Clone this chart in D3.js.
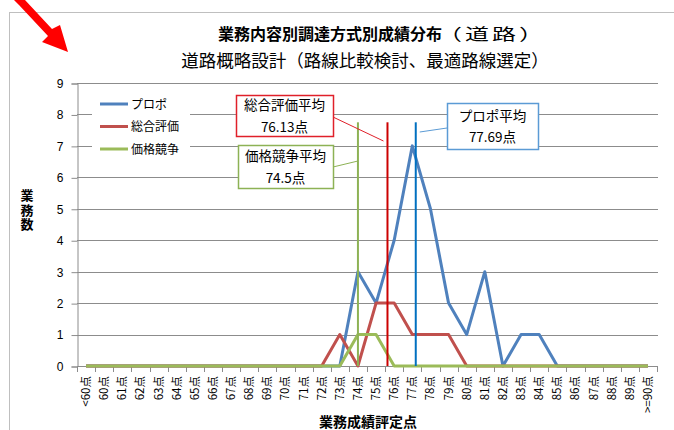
<!DOCTYPE html>
<html>
<head>
<meta charset="utf-8">
<script src="https://cdn.jsdelivr.net/npm/d3@7"></script>
<style>
  body { margin: 0; background: #fff; }
  svg { display: block; font-family: "Noto Sans CJK JP", "Noto Sans", sans-serif; }
</style>
</head>
<body>
<div id="chart_parent"></div>
<script>
// categories: <60点, 60点 .. 89点, >=90点
const scores = d3.range(60, 90);
const categories = ['<60点'].concat(scores.map(s => `${s}点`), ['>=90点']);

const seriesNames = ['プロポ', '総合評価', '価格競争'];
const seriesColours = ['#4F81BD', '#C0504D', '#9BBB59'];

// counts per category (index 0 = <60, 1 = 60 ... 30 = 89, 31 = >=90)
const proposalCounts = [0, 0, 0, 0, 0, 0, 0, 0, 0, 0, 0, 0, 0, 0, 0, 3, 2, 4, 7, 5, 2, 1, 3, 0, 1, 1, 0, 0, 0, 0, 0, 0];
const overallCounts = [0, 0, 0, 0, 0, 0, 0, 0, 0, 0, 0, 0, 0, 0, 1, 0, 2, 2, 1, 1, 1, 0, 0, 0, 0, 0, 0, 0, 0, 0, 0, 0];
const priceCounts = [0, 0, 0, 0, 0, 0, 0, 0, 0, 0, 0, 0, 0, 0, 0, 1, 1, 0, 0, 0, 0, 0, 0, 0, 0, 0, 0, 0, 0, 0, 0, 0];

const meanTitles = ['プロポ平均', '総合評価平均', '価格競争平均'];
const meanValues = [77.69, 76.13, 74.5];
const meanLabels = ['77.69点', '76.13点', '74.5点'];
const meanColours = ['#0070C0', '#CC0000', '#8DB255'];
const boxColours = ['#5B9BD5', '#E0202A', '#8DB255'];

const yTicks = d3.range(0, 10);

const chartConfig = {
    width: 674,
    height: 430,
    plot: { left: 77, right: 657, top: 83, bottom: 366 },
    meanLineTop: 7.75,
    // callout boxes and where their leader lines start
    boxes: [
        { x: 447, y: 103, w: 91, h: 46, lx: 447, ly: 128, ty: 132, off: 4 },
        { x: 236, y: 95, w: 97, h: 41, lx: 333, ly: 117, ty: 141, off: -4 },
        { x: 238, y: 145, w: 95, h: 43, lx: 333, ly: 167, ty: 161, off: 0 },
    ],
};

function drawChart(config) {
    const svg = d3.select('#chart_parent').append('svg')
        .attr('width', config.width)
        .attr('height', config.height);

    const { left, right, top, bottom } = config.plot;

    // outer chart frame
    svg.append('rect')
        .attr('x', 9.5).attr('y', 12.5)
        .attr('width', 700).attr('height', 500)
        .attr('fill', 'none')
        .attr('stroke', '#BFBFBF');

    const xBand = d3.scaleBand().domain(categories).range([left, right]).padding(0);
    const xScore = d3.scaleLinear().domain([59, 91]).range([left, right]);
    const y = d3.scaleLinear().domain([0, 9]).range([bottom, top]);
    const xc = c => xBand(c) + xBand.bandwidth() / 2;

    // gridlines
    svg.append('g').selectAll('line')
        .data(yTicks.filter(t => t > 0))
        .join('line')
        .attr('x1', left).attr('x2', right + 1)
        .attr('y1', d => Math.round(y(d)) + 0.5).attr('y2', d => Math.round(y(d)) + 0.5)
        .attr('stroke', '#8C8C8C');

    // y axis
    const yAxis = d3.axisLeft(y).tickValues(yTicks).tickSize(6).tickPadding(8);
    const yAxisGroup = svg.append('g')
        .attr('transform', `translate(${left + 0.5},0.5)`)
        .call(yAxis);
    yAxisGroup.select('.domain').attr('stroke', '#8C8C8C');
    yAxisGroup.selectAll('.tick line').attr('stroke', '#8C8C8C');
    yAxisGroup.selectAll('.tick text')
        .attr('font-size', 12).attr('fill', '#000')
        .attr('font-family', '"Liberation Sans", Arial, sans-serif');

    // x axis: tick marks at category boundaries
    const xAxisGroup = svg.append('g');
    xAxisGroup.append('line')
        .attr('x1', left).attr('x2', right + 1)
        .attr('y1', bottom + 0.5).attr('y2', bottom + 0.5)
        .attr('stroke', '#8C8C8C');
    xAxisGroup.selectAll('.xtick')
        .data(d3.range(categories.length + 1))
        .join('line')
        .attr('class', 'xtick')
        .attr('x1', i => Math.round(left + i * xBand.bandwidth()) + 0.5)
        .attr('x2', i => Math.round(left + i * xBand.bandwidth()) + 0.5)
        .attr('y1', bottom).attr('y2', bottom + 6)
        .attr('stroke', '#8C8C8C');
    xAxisGroup.selectAll('.xlabel')
        .data(categories)
        .join('text')
        .attr('class', 'xlabel')
        .attr('transform', c => `translate(${xc(c) + 4},${bottom + 10}) rotate(-90)`)
        .attr('text-anchor', 'end')
        .attr('font-size', 11.5)
        .text(c => c);

    // series lines
    const seriesData = [proposalCounts, overallCounts, priceCounts];
    const line = d3.line()
        .x((d, i) => xc(categories[i]))
        .y(d => y(d));

    svg.append('g').selectAll('path')
        .data(seriesData)
        .join('path')
        .attr('d', d => line(d))
        .attr('fill', 'none')
        .attr('stroke', (d, i) => seriesColours[i])
        .attr('stroke-width', 3)
        .attr('stroke-linejoin', 'round');

    // mean lines
    svg.append('g').selectAll('line')
        .data(meanValues)
        .join('line')
        .attr('x1', d => xScore(d)).attr('x2', d => xScore(d))
        .attr('y1', y(0)).attr('y2', y(config.meanLineTop))
        .attr('stroke', (d, i) => meanColours[i])
        .attr('stroke-width', 2);

    // legend
    const legend = svg.append('g');
    legend.append('rect')
        .attr('x', 92).attr('y', 90).attr('width', 98).attr('height', 72)
        .attr('fill', '#fff');
    seriesNames.forEach((name, i) => {
        const ly = 104 + i * 22.5;
        legend.append('line')
            .attr('x1', 100).attr('x2', 128)
            .attr('y1', ly).attr('y2', ly)
            .attr('stroke', seriesColours[i])
            .attr('stroke-width', 3);
        legend.append('text')
            .attr('x', 131).attr('y', ly + 4.5)
            .attr('font-size', 12)
            .text(name);
    });

    // mean callouts
    const callouts = svg.append('g');
    config.boxes.forEach((b, i) => {
        callouts.append('line')
            .attr('x1', b.lx).attr('y1', b.ly)
            .attr('x2', xScore(meanValues[i]) + b.off).attr('y2', b.ty)
            .attr('stroke', boxColours[i])
            .attr('stroke-width', 1);
        callouts.append('rect')
            .attr('x', b.x + 0.5).attr('y', b.y + 0.5)
            .attr('width', b.w).attr('height', b.h)
            .attr('fill', '#fff')
            .attr('stroke', boxColours[i])
            .attr('stroke-width', 1.5);
        const t = callouts.append('text')
            .attr('text-anchor', 'middle')
            .attr('font-size', 13.5);
        t.append('tspan')
            .attr('x', b.x + b.w / 2).attr('y', b.y + b.h / 2 - 5.5)
            .text(meanTitles[i]);
        t.append('tspan')
            .attr('x', b.x + b.w / 2).attr('y', b.y + b.h / 2 + 16)
            .text(meanLabels[i]);
    });

    // titles
    svg.append('text')
        .attr('x', 218).attr('y', 40)
        .attr('font-size', 16).attr('font-weight', 'bold')
        .text('業務内容別調達方式別成績分布');
    // the bracketed part is set in a wider face in the original
    svg.append('text')
        .attr('transform', 'translate(438,40) scale(1.5,1)')
        .attr('font-size', 16)
        .attr('letter-spacing', 2)
        .text('（道路）');
    svg.append('text')
        .attr('x', 365).attr('y', 67)
        .attr('text-anchor', 'middle')
        .attr('font-size', 17.5)
        .text('道路概略設計（路線比較検討、最適路線選定）');

    // axis titles
    svg.append('text')
        .attr('x', 27).attr('y', 189)
        .attr('font-size', 13)
        .attr('font-weight', 'bold')
        .attr('letter-spacing', 1.5)
        .style('writing-mode', 'vertical-rl')
        .text('業務数');
    svg.append('text')
        .attr('x', 368).attr('y', 427)
        .attr('text-anchor', 'middle')
        .attr('font-size', 14)
        .attr('font-weight', 'bold')
        .text('業務成績評定点');

    // red arrow annotation
    svg.append('path')
        .attr('d', 'M14,0 L25,0 L52,29 L60,25 L68,52 L42,42 L48,36 L19,5 Z')
        .attr('fill', '#FF0000');
}

drawChart(chartConfig);
</script>
</body>
</html>
